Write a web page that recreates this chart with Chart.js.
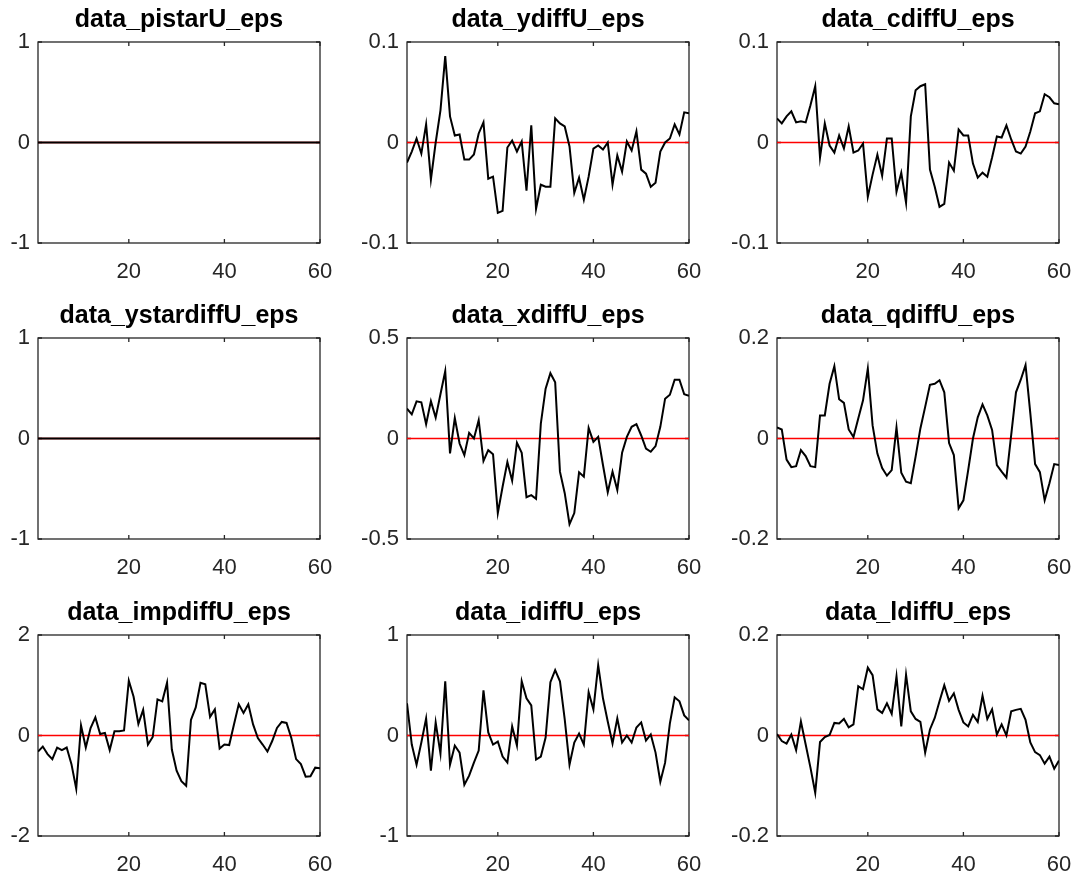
<!DOCTYPE html>
<html>
<head>
<meta charset="utf-8">
<script src="https://cdn.jsdelivr.net/npm/chart.js@4.4.1/dist/chart.umd.min.js"></script>
<style>
    html, body { margin: 0; padding: 0; background: #fff; overflow: hidden; }
    #page { position: relative; width: 1075px; height: 876px; }
    .panel { position: absolute; }
</style>
</head>
<body>
<div id="page"></div>
<script>
// periodos del impulso-respuesta
var periods = [1, 2, 3, 4, 5, 6, 7, 8, 9, 10, 11, 12, 13, 14, 15, 16, 17, 18, 19, 20,
    21, 22, 23, 24, 25, 26, 27, 28, 29, 30, 31, 32, 33, 34, 35, 36, 37, 38, 39, 40,
    41, 42, 43, 44, 45, 46, 47, 48, 49, 50, 51, 52, 53, 54, 55, 56, 57, 58, 59, 60];
var xTicks = [20, 40, 60];

var pistarU = [0, 0, 0, 0, 0, 0, 0, 0, 0, 0, 0, 0, 0, 0, 0, 0, 0, 0, 0, 0,
    0, 0, 0, 0, 0, 0, 0, 0, 0, 0, 0, 0, 0, 0, 0, 0, 0, 0, 0, 0,
    0, 0, 0, 0, 0, 0, 0, 0, 0, 0, 0, 0, 0, 0, 0, 0, 0, 0, 0, 0];
var ydiffU = [-0.020, -0.009, 0.004, -0.011, 0.018, -0.037, 0.000, 0.032, 0.086, 0.026,
    0.007, 0.008, -0.017, -0.017, -0.012, 0.009, 0.020, -0.036, -0.034, -0.070,
    -0.068, -0.005, 0.002, -0.009, 0.001, -0.048, 0.017, -0.066, -0.042, -0.044,
    -0.044, 0.024, 0.019, 0.016, -0.004, -0.050, -0.035, -0.057, -0.034, -0.006,
    -0.003, -0.007, 0.000, -0.042, -0.013, -0.029, 0.001, -0.008, 0.011, -0.027,
    -0.031, -0.044, -0.040, -0.009, 0.000, 0.004, 0.018, 0.008, 0.030, 0.029];
var cdiffU = [0.024, 0.019, 0.026, 0.031, 0.020, 0.021, 0.020, 0.037, 0.056, -0.015,
    0.019, -0.003, -0.010, 0.007, -0.006, 0.016, -0.010, -0.008, -0.001, -0.054,
    -0.032, -0.012, -0.033, 0.004, 0.004, -0.049, -0.030, -0.060, 0.026, 0.052,
    0.056, 0.058, -0.027, -0.044, -0.064, -0.061, -0.020, -0.028, 0.013, 0.007,
    0.007, -0.021, -0.035, -0.030, -0.034, -0.015, 0.006, 0.005, 0.017, 0.003,
    -0.009, -0.011, -0.004, 0.011, 0.029, 0.031, 0.048, 0.045, 0.039, 0.038];
var ystardiffU = [0, 0, 0, 0, 0, 0, 0, 0, 0, 0, 0, 0, 0, 0, 0, 0, 0, 0, 0, 0,
    0, 0, 0, 0, 0, 0, 0, 0, 0, 0, 0, 0, 0, 0, 0, 0, 0, 0, 0, 0,
    0, 0, 0, 0, 0, 0, 0, 0, 0, 0, 0, 0, 0, 0, 0, 0, 0, 0, 0, 0];
var xdiffU = [0.149, 0.120, 0.185, 0.180, 0.071, 0.186, 0.104, 0.220, 0.335, -0.074,
    0.102, -0.025, -0.083, 0.028, 0.000, 0.091, -0.112, -0.058, -0.078, -0.371,
    -0.240, -0.117, -0.210, -0.021, -0.071, -0.292, -0.282, -0.300, 0.074, 0.248,
    0.325, 0.280, -0.165, -0.272, -0.426, -0.371, -0.168, -0.190, 0.053, -0.017,
    0.008, -0.132, -0.267, -0.165, -0.256, -0.071, 0.008, 0.058, 0.071, 0.015,
    -0.050, -0.066, -0.038, 0.058, 0.198, 0.218, 0.292, 0.292, 0.220, 0.213];
var qdiffU = [0.022, 0.018, -0.042, -0.057, -0.055, -0.023, -0.035, -0.055, -0.057, 0.046,
    0.046, 0.109, 0.144, 0.078, 0.071, 0.018, 0.003, 0.040, 0.076, 0.139,
    0.026, -0.030, -0.059, -0.074, -0.063, 0.022, -0.068, -0.086, -0.089, -0.036,
    0.020, 0.063, 0.107, 0.109, 0.116, 0.092, -0.009, -0.033, -0.139, -0.123,
    -0.063, 0.000, 0.042, 0.068, 0.046, 0.017, -0.053, -0.066, -0.078, 0.007,
    0.092, 0.117, 0.146, 0.050, -0.051, -0.067, -0.123, -0.089, -0.051, -0.053];
var impdiffU = [-0.32, -0.22, -0.37, -0.47, -0.24, -0.29, -0.24, -0.57, -1.06, 0.20,
    -0.24, 0.15, 0.36, 0.03, 0.05, -0.29, 0.085, 0.085, 0.10, 1.09,
    0.77, 0.23, 0.51, -0.18, -0.03, 0.72, 0.68, 1.05, -0.28, -0.70,
    -0.91, -1.00, 0.31, 0.56, 1.05, 1.02, 0.37, 0.52, -0.26, -0.18,
    -0.19, 0.22, 0.62, 0.45, 0.62, 0.22, -0.05, -0.18, -0.32, -0.11,
    0.15, 0.27, 0.25, -0.05, -0.47, -0.57, -0.82, -0.81, -0.64, -0.65];
var idiffU = [0.32, -0.09, -0.29, -0.07, 0.17, -0.35, 0.13, -0.18, 0.54, -0.29,
    -0.10, -0.17, -0.49, -0.40, -0.27, -0.15, 0.45, 0.03, -0.09, -0.06,
    -0.21, -0.27, 0.09, -0.10, 0.54, 0.37, 0.30, -0.24, -0.21, -0.02,
    0.53, 0.65, 0.54, 0.16, -0.29, -0.07, 0.02, -0.09, 0.43, 0.26,
    0.70, 0.37, 0.14, -0.08, 0.17, -0.07, 0.00, -0.07, 0.08, 0.13,
    -0.05, 0.01, -0.17, -0.46, -0.27, 0.12, 0.38, 0.34, 0.20, 0.15];
var ldiffU = [0.003, -0.011, -0.016, 0.002, -0.029, 0.028, -0.018, -0.064, -0.114, -0.013,
    -0.003, 0.001, 0.025, 0.024, 0.033, 0.016, 0.022, 0.098, 0.092, 0.135,
    0.120, 0.052, 0.045, 0.064, 0.043, 0.118, 0.018, 0.121, 0.048, 0.033,
    0.027, -0.034, 0.012, 0.035, 0.068, 0.100, 0.069, 0.084, 0.051, 0.026,
    0.018, 0.041, 0.027, 0.079, 0.033, 0.052, 0.002, 0.022, 0.000, 0.048,
    0.051, 0.053, 0.031, -0.014, -0.033, -0.039, -0.056, -0.042, -0.066, -0.050];

var titles = ['data_pistarU_eps', 'data_ydiffU_eps', 'data_cdiffU_eps',
    'data_ystardiffU_eps', 'data_xdiffU_eps', 'data_qdiffU_eps',
    'data_impdiffU_eps', 'data_idiffU_eps', 'data_ldiffU_eps'];
var series = [pistarU, ydiffU, cdiffU, ystardiffU, xdiffU, qdiffU, impdiffU, idiffU, ldiffU];
var yTicks = [[-1, 0, 1], [-0.1, 0, 0.1], [-0.1, 0, 0.1],
    [-1, 0, 1], [-0.5, 0, 0.5], [-0.2, 0, 0.2],
    [-2, 0, 2], [-1, 0, 1], [-0.2, 0, 0.2]];

// posicion del area de trazado de cada subgrafico
var plotLeft = [38, 407, 777];
var plotTop = [42, 338, 635];
var PLOT_W = 282;
var PLOT_H = 201;
var Y_AXIS_W = 60;
var X_AXIS_H = 50;
var TITLE_H = 39;
var PAD_RIGHT = 20;
var axisColor = '#262626';
var fontFamily = "'Liberation Sans', Arial, Helvetica, sans-serif";

// marco y marcas hacia adentro, estilo MATLAB
var boxPlugin = {
    id: 'box',
    beforeDatasetsDraw: function (chart) {
        var ctx = chart.ctx;
        var a = chart.chartArea;
        var xs = chart.scales.x;
        var ys = chart.scales.y;
        var len = 4;
        ctx.save();
        ctx.strokeStyle = axisColor;
        ctx.lineWidth = 1.3;
        ctx.strokeRect(a.left, a.top, a.right - a.left, a.bottom - a.top);
        ctx.beginPath();
        xs.ticks.forEach(function (t) {
            var px = xs.getPixelForValue(t.value);
            ctx.moveTo(px, a.bottom);
            ctx.lineTo(px, a.bottom - len);
            ctx.moveTo(px, a.top);
            ctx.lineTo(px, a.top + len);
        });
        ys.ticks.forEach(function (t) {
            var py = ys.getPixelForValue(t.value);
            ctx.moveTo(a.left, py);
            ctx.lineTo(a.left + len, py);
            ctx.moveTo(a.right, py);
            ctx.lineTo(a.right - len, py);
        });
        ctx.stroke();
        ctx.restore();
    }
};

function toPoints(values) {
    return values.map(function (v, i) { return { x: periods[i], y: v }; });
}

var page = document.getElementById('page');
var canvasW = Y_AXIS_W + PLOT_W + PAD_RIGHT;
var canvasH = TITLE_H + PLOT_H + X_AXIS_H;

for (var k = 0; k < 9; k++) {
    var col = k % 3;
    var row = Math.floor(k / 3);
    var div = document.createElement('div');
    div.className = 'panel';
    div.style.left = (plotLeft[col] - Y_AXIS_W) + 'px';
    div.style.top = (plotTop[row] - TITLE_H) + 'px';
    var canvas = document.createElement('canvas');
    canvas.width = canvasW;
    canvas.height = canvasH;
    canvas.style.width = canvasW + 'px';
    canvas.style.height = canvasH + 'px';
    div.appendChild(canvas);
    page.appendChild(div);

    var yt = yTicks[k];

    new Chart(canvas, {
        type: 'line',
        data: {
            datasets: [{
                data: toPoints(series[k]),
                borderColor: '#000000',
                borderWidth: 2,
                pointRadius: 0,
                tension: 0,
                order: 1
            }, {
                // linea de referencia en cero
                data: [{ x: periods[0], y: 0 }, { x: periods[periods.length - 1], y: 0 }],
                borderColor: '#ff0000',
                borderWidth: 1.6,
                pointRadius: 0,
                order: 2
            }]
        },
        options: {
            responsive: false,
            animation: false,
            devicePixelRatio: 1,
            events: [],
            layout: { padding: { top: 0, right: PAD_RIGHT, bottom: 0, left: 0 } },
            plugins: {
                legend: { display: false },
                tooltip: { enabled: false },
                title: {
                    display: true,
                    fullSize: false,
                    text: titles[k],
                    color: '#000000',
                    font: { family: fontFamily, size: 25, weight: 'bold', lineHeight: 1.2 },
                    padding: { top: 2, bottom: 7 }
                }
            },
            scales: {
                x: {
                    type: 'linear',
                    min: periods[0],
                    max: periods[periods.length - 1],
                    afterBuildTicks: function (scale) {
                        scale.ticks = xTicks.map(function (v) { return { value: v }; });
                    },
                    afterFit: function (scale) {
                        scale.height = X_AXIS_H;
                        scale.paddingLeft = 0;
                        scale.paddingRight = 0;
                    },
                    grid: { display: false, drawTicks: false },
                    border: { display: false },
                    ticks: {
                        color: axisColor,
                        padding: 16,
                        maxRotation: 0,
                        font: { family: fontFamily, size: 22 },
                        callback: function (v) { return String(v); }
                    }
                },
                y: {
                    type: 'linear',
                    min: yt[0],
                    max: yt[2],
                    afterBuildTicks: (function (vals) {
                        return function (scale) {
                            scale.ticks = vals.map(function (v) { return { value: v }; });
                        };
                    })(yt),
                    afterFit: function (scale) {
                        scale.width = Y_AXIS_W;
                        scale.paddingTop = 0;
                        scale.paddingBottom = 0;
                    },
                    grid: { display: false, drawTicks: false },
                    border: { display: false },
                    ticks: {
                        color: axisColor,
                        padding: 8,
                        font: { family: fontFamily, size: 22 },
                        callback: function (v) { return String(v); }
                    }
                }
            }
        },
        plugins: [boxPlugin]
    });
}
</script>
</body>
</html>
